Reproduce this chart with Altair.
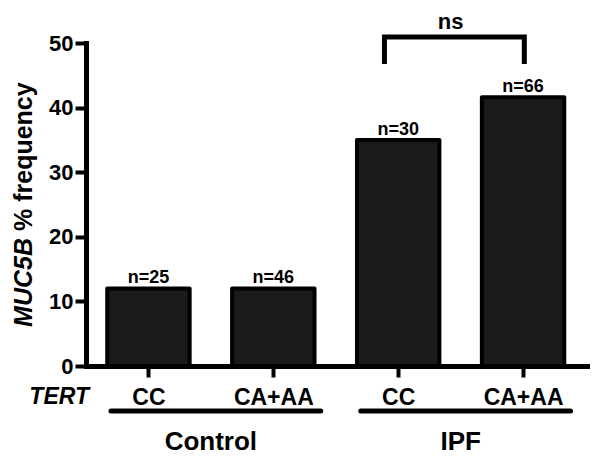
import json
import altair as alt
import pandas as pd

# ---- data ----
genotypes = ["CC", "CA+AA", "CC", "CA+AA"]
groups = ["Control", "Control", "IPF", "IPF"]
frequency = [12.0, 12.0, 35.0, 41.6]
n_counts = [25, 46, 30, 66]
y_ticks = [0, 10, 20, 30, 40, 50]
compare_pair = [3, 4]          # bars compared by the bracket (1-based)
sig_label = "ns"
y_title_italic = "MUC5B"
y_title_rest = "% frequency"
x_title = "TERT"

FONT = "Liberation Sans"
W, H = 502, 323
HALF = 0.33

pos = list(range(1, len(genotypes) + 1))
bars = pd.DataFrame({
    "pos": pos,
    "genotype": genotypes,
    "group": groups,
    "freq": frequency,
    "label": ["n=%d" % v for v in n_counts],
})
bars["x0"] = bars["pos"] - HALF
bars["x1"] = bars["pos"] + HALF
bars["zero"] = 0

grp = bars.groupby("group", sort=False)["pos"].agg(["min", "max", "mean"]).reset_index()
grp["u0"] = grp["min"] - 0.30
grp["u1"] = grp["max"] + 0.38

a, b = compare_pair
bx0, bx1 = a - 0.11, b + 0.01
bracket = pd.DataFrame({
    "o": [0, 1, 2, 3],
    "x": [bx0, bx0, bx1, bx1],
    "y": [46.75, 50.93, 50.93, 46.75],
})
sig = pd.DataFrame({"x": [(bx0 + bx1) / 2 - 0.03], "y": [52.17], "t": [sig_label]})

xs = alt.Scale(domain=[0.5, 4.52], nice=False, zero=False)
ys = alt.Scale(domain=[0, 50], nice=False)

label_expr = json.dumps(genotypes) + "[datum.value - 1]"

x_axis = alt.Axis(
    values=pos, labelExpr=label_expr, title=None, grid=False,
    domainWidth=5, domainColor="black", domainCap="square",
    tickWidth=4, tickSize=11, tickColor="black",
    labelFont=FONT, labelFontWeight="bold", labelFontSize=23, labelColor="black",
    labelBaseline="alphabetic", labelPadding=27, labelFlush=False, labelOverlap=False,
)
y_axis = alt.Axis(
    values=y_ticks, title=None, grid=False,
    domainWidth=5, domainColor="black", domainCap="square",
    tickWidth=4, tickSize=11, tickColor="black",
    labelFont=FONT, labelFontWeight="bold", labelFontSize=22, labelColor="black",
    labelPadding=2,
)

bar_layer = alt.Chart(bars).mark_rect(
    fill="#1a1a1a", stroke="black", strokeWidth=4, strokeJoin="round"
).encode(
    x=alt.X("x0:Q", scale=xs, axis=x_axis),
    x2="x1:Q",
    y=alt.Y("freq:Q", scale=ys, axis=y_axis),
    y2="zero:Q",
)

n_layer = alt.Chart(bars).mark_text(
    font=FONT, fontWeight="bold", fontSize=18, color="black",
    baseline="alphabetic", dy=-5
).encode(x=alt.X("pos:Q", scale=xs), y=alt.Y("freq:Q", scale=ys), text="label:N")

bracket_layer = alt.Chart(bracket).mark_line(
    color="black", strokeWidth=5, strokeJoin="miter", strokeCap="butt"
).encode(x=alt.X("x:Q", scale=xs), y=alt.Y("y:Q", scale=ys), order="o:Q")

sig_layer = alt.Chart(sig).mark_text(
    font=FONT, fontWeight="bold", fontSize=22, color="black", baseline="alphabetic"
).encode(x=alt.X("x:Q", scale=xs), y=alt.Y("y:Q", scale=ys), text="t:N")

underline_layer = alt.Chart(grp).mark_rule(
    color="black", strokeWidth=5, strokeCap="round"
).encode(x=alt.X("u0:Q", scale=xs), x2="u1:Q", y=alt.value(H + 45))

group_text = alt.Chart(grp).mark_text(
    font=FONT, fontWeight="bold", fontSize=26, color="black", baseline="alphabetic"
).encode(x=alt.X("mean:Q", scale=xs), y=alt.value(H + 84), text="group:N")

tert_text = alt.Chart(pd.DataFrame({"t": [x_title]})).mark_text(
    font=FONT, fontWeight="bold", fontStyle="italic", fontSize=23, color="black",
    baseline="alphabetic", align="right"
).encode(x=alt.value(3), y=alt.value(H + 38), text="t:N")

ytitle_a = alt.Chart(pd.DataFrame({"t": [y_title_italic]})).mark_text(
    font=FONT, fontWeight="bold", fontStyle="italic", fontSize=25, color="black",
    baseline="alphabetic", align="right", angle=270
).encode(x=alt.value(-54), y=alt.value(195), text="t:N")

ytitle_b = alt.Chart(pd.DataFrame({"t": [y_title_rest]})).mark_text(
    font=FONT, fontWeight="bold", fontSize=25, color="black",
    baseline="alphabetic", align="left", angle=270
).encode(x=alt.value(-54), y=alt.value(188), text="t:N")

chart = alt.layer(
    bar_layer, n_layer, bracket_layer, sig_layer, underline_layer,
    group_text, tert_text, ytitle_a, ytitle_b
).properties(
    width=W, height=H,
    autosize=alt.AutoSizeParams(type="none"),
    padding={"left": 78, "top": 35, "right": 2, "bottom": 91},
    background="white",
).configure_view(stroke=None)

chart.save("out.html", embed_options={"renderer": "svg", "actions": False})
